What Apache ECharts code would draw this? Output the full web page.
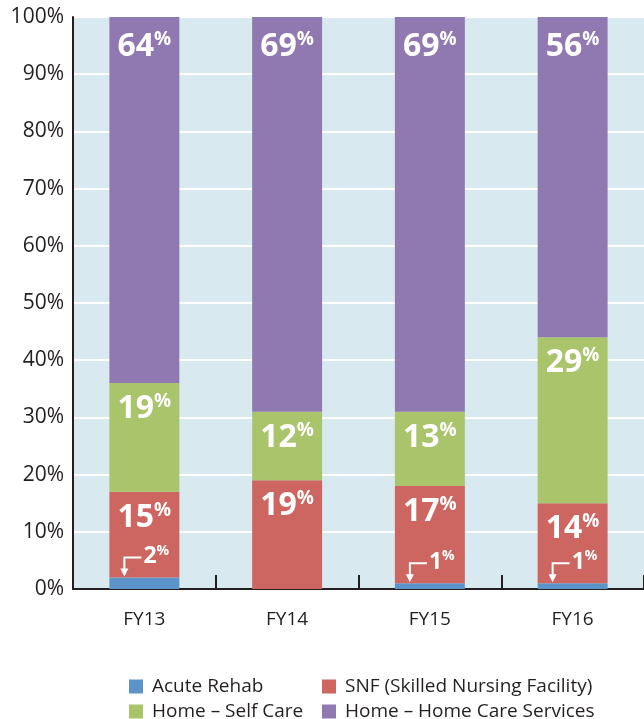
<!DOCTYPE html>
<html>
<head>
<meta charset="utf-8">
<script src="https://cdn.jsdelivr.net/npm/echarts@6/dist/echarts.min.js"></script>
<style>
  html, body { margin: 0; padding: 0; background: #fff; }
  #chart { width: 644px; height: 719px; }
</style>
</head>
<body>
<div id="chart"></div>
<script>
  // 数据
  var years = ['FY13', 'FY14', 'FY15', 'FY16'];
  var acuteRehab = [2, 0, 1, 1];
  var snf = [15, 19, 17, 14];
  var selfCare = [19, 12, 13, 29];
  var homeCare = [64, 69, 69, 56];
  var yTicks = [0, 10, 20, 30, 40, 50, 60, 70, 80, 90, 100];

  var FONT = '"Open Sans", "Noto Sans", sans-serif';
  var TEXT = '#231f20';
  var BAR_W = 0.49;

  // 柱内白色大标签
  function bigLabel(dist) {
    return {
      show: true,
      position: 'insideTop',
      distance: dist,
      formatter: function (p) { return '{v|' + p.value + '}{p|%}'; },
      rich: {
        v: { fontFamily: FONT, fontSize: 32, fontWeight: 'bold', color: '#fff', lineHeight: 34 },
        p: { fontFamily: FONT, fontSize: 19, fontWeight: 'bold', color: '#fff', verticalAlign: 'top', lineHeight: 22 }
      }
    };
  }

  function barSeries(name, data, color, label) {
    return {
      name: name,
      type: 'bar',
      stack: 'total',
      barWidth: (BAR_W * 100) + '%',
      data: data,
      itemStyle: { color: color },
      label: label || { show: false },
      emphasis: { disabled: true }
    };
  }

  // 小数值的箭头标注
  var smallData = [];
  acuteRehab.forEach(function (v, i) {
    if (v > 0) smallData.push([i, v]);
  });

  function renderArrow(params, api) {
    var top = api.coord([api.value(0), api.value(1)]);
    var band = api.size([1, 0])[0];
    var left = top[0] - band * BAR_W / 2;
    var ax = left + 15;
    var ly = top[1] - 20;
    return {
      type: 'group',
      children: [
        {
          type: 'polyline',
          shape: { points: [[ax + 17, ly], [ax, ly], [ax, top[1] - 7]] },
          style: { stroke: '#fff', lineWidth: 2, fill: null }
        },
        {
          type: 'polygon',
          shape: { points: [[ax - 4, top[1] - 9], [ax + 4, top[1] - 9], [ax, top[1] - 1]] },
          style: { fill: '#fff' }
        },
        {
          type: 'text',
          x: ax + 19,
          y: ly - 1,
          style: {
            text: '{v|' + api.value(1) + '}{p|%}',
            verticalAlign: 'middle',
            align: 'left',
            rich: {
              v: { fontFamily: FONT, fontSize: 23, fontWeight: 'bold', fill: '#fff', lineHeight: 26 },
              p: { fontFamily: FONT, fontSize: 14, fontWeight: 'bold', fill: '#fff', verticalAlign: 'top', lineHeight: 18 }
            }
          }
        }
      ]
    };
  }

  var chart = echarts.init(document.getElementById('chart'));

  var legendText = { fontFamily: FONT, fontSize: 19, color: TEXT, lineHeight: 18, padding: [0, 0, 0, 4] };

  var option = {
    animation: false,
    textStyle: { fontFamily: FONT },
    grid: {
      left: 73,
      right: 0,
      top: 17,
      bottom: 130,
      show: true,
      backgroundColor: '#d8e9f0',
      borderWidth: 0
    },
    legend: [
      {
        data: ['Acute Rehab', 'Home – Self Care'],
        orient: 'vertical',
        left: 129,
        top: 677,
        height: 100,
        padding: 0,
        itemWidth: 14,
        itemHeight: 14,
        itemGap: 6,
        icon: 'rect',
        selectedMode: false,
        textStyle: legendText
      },
      {
        data: ['SNF (Skilled Nursing Facility)', 'Home – Home Care Services'],
        orient: 'vertical',
        left: 322,
        top: 677,
        height: 100,
        padding: 0,
        itemWidth: 14,
        itemHeight: 14,
        itemGap: 6,
        icon: 'rect',
        selectedMode: false,
        textStyle: legendText
      }
    ],
    xAxis: {
      type: 'category',
      data: years,
      axisLine: { lineStyle: { color: '#231f20', width: 2 } },
      axisTick: { show: true, inside: true, length: 14, lineStyle: { color: '#231f20', width: 2 } },
      axisLabel: { color: TEXT, fontSize: 19, margin: 21, fontFamily: FONT }
    },
    yAxis: {
      type: 'value',
      min: yTicks[0],
      max: yTicks[yTicks.length - 1],
      interval: 10,
      axisLine: { show: true, lineStyle: { color: '#231f20', width: 2 } },
      axisTick: { show: false },
      axisLabel: { color: TEXT, fontSize: 21, margin: 9, fontFamily: FONT, formatter: '{value}%' },
      splitLine: { lineStyle: { color: '#ffffff', width: 2 } }
    },
    series: [
      barSeries('Acute Rehab', acuteRehab, '#5b94c8'),
      barSeries('SNF (Skilled Nursing Facility)', snf, '#cd6560', bigLabel(9)),
      barSeries('Home – Self Care', selfCare, '#a9c46b', bigLabel(9)),
      barSeries('Home – Home Care Services', homeCare, '#9079b0', bigLabel(13)),
      {
        type: 'custom',
        renderItem: renderArrow,
        data: smallData,
        z: 10,
        silent: true
      }
    ]
  };

  chart.setOption(option);
</script>
</body>
</html>
